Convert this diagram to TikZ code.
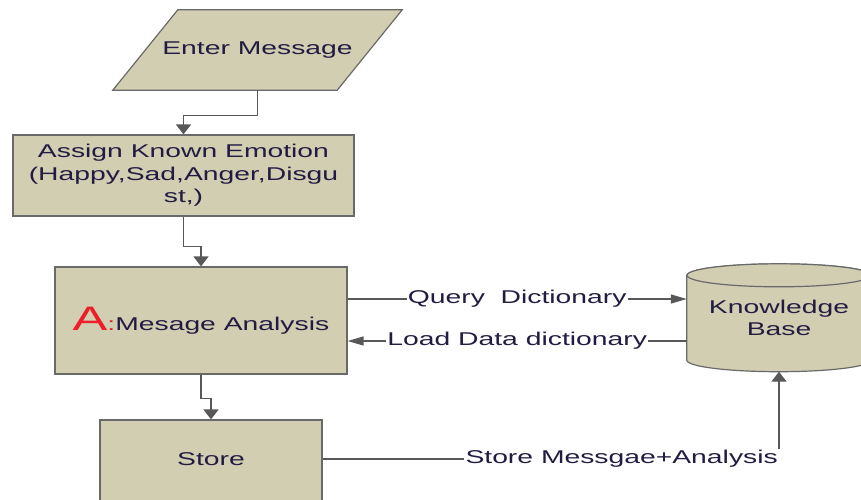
\documentclass[tikz,border=0pt]{standalone}
\usepackage{fontspec}
\setmainfont{Liberation Sans}[FakeStretch=1.53]
\usetikzlibrary{arrows.meta,backgrounds}

\definecolor{boxfill}{RGB}{210,206,178}
\definecolor{boxline}{RGB}{105,105,105}
\definecolor{wire}{RGB}{88,88,88}
\definecolor{ink}{RGB}{34,28,66}
\definecolor{mark}{RGB}{238,30,40}

\tikzset{
  box/.style={draw=boxline, fill=boxfill, line width=1.2pt, text=ink, align=center, inner sep=0pt},
  outline/.style={draw=boxline, fill=boxfill, line width=1.2pt},
  wireline/.style={draw=wire, line width=1.4pt},
  varrow/.style={wireline, -{Triangle[length=10pt,width=15pt]}},
  harrow/.style={wireline, -{Triangle[length=16pt,width=9pt]}},
  lab/.style={fill=white, text=ink, inner sep=1pt},
}

\begin{document}
\begin{tikzpicture}[x=1pt, y=-1pt, font=\fontsize{18.5}{22.5}\selectfont]
\useasboundingbox (0,0) rectangle (861,499);

% input parallelogram (outline drawn behind its label)
\node[text=ink, minimum width=289pt, minimum height=80pt, inner sep=0pt]
      (ent) at (257.5,50) {Enter Message};
\begin{pgfonlayer}{background}
\filldraw[outline] ([xshift=65pt]ent.north west) -- (ent.north east)
  -- ([xshift=-65pt]ent.south east) -- (ent.south west) -- cycle;
\end{pgfonlayer}

% process boxes
\node[box, minimum width=341pt, minimum height=81pt] (asg) at (183.5,175.5)
  {Assign Known Emotion\\(Happy,Sad,Anger,Disgu\\st,)};
\node[box, minimum width=292pt, minimum height=107pt] (ana) at (201,320.5)
  {{\color{mark}\fontsize{34}{34}\selectfont A\fontsize{18.5}{22.5}\selectfont:}Mesage Analysis};
\node[box, minimum width=222pt, text height=13.5pt, text depth=10pt, inner ysep=32pt]
  (store) at (211,463.75) {Store};

% knowledge base cylinder (body drawn behind its label)
\node[text=ink, align=center, minimum width=184pt, minimum height=84.5pt, inner sep=0pt]
  (kb) at (779,317.75) {Knowledge\\Base};
\begin{pgfonlayer}{background}
\filldraw[outline]
  (kb.north west) -- (kb.south west)
  arc[start angle=180, end angle=0, x radius=92, y radius=11.5]
  -- (kb.north east)
  arc[start angle=360, end angle=180, x radius=92, y radius=11.5] -- cycle;
\filldraw[outline] (kb.north) ellipse[x radius=92, y radius=11.5];
\end{pgfonlayer}

% flow connectors
\draw[varrow] (ent.south) -- ++(0,25) -| (asg.north);
\draw[varrow] (asg.south) -- ++(0,30) -| (ana.north);
\draw[varrow] (ana.south) -- ++(0,24) -| (store.north);

% dictionary exchange
\coordinate (q1) at ([yshift=21.5pt]ana.east);
\coordinate (l1) at ([yshift=-20.5pt]ana.east);
\draw[harrow] (q1) -- node[lab]{Query\ \ Dictionary} (q1 -| kb.west);
\draw[harrow] (l1 -| kb.west) -- node[lab]{Load Data dictionary} (l1);

% storing results
\node[lab, anchor=east] (sl) at (779,459) {Store Messgae+Analysis};
\draw[wireline] (sl.west -| store.east) -- (sl.west);
\draw[varrow] (sl.north east) -- ([yshift=-11.5pt]kb.south);
\end{tikzpicture}
\end{document}
